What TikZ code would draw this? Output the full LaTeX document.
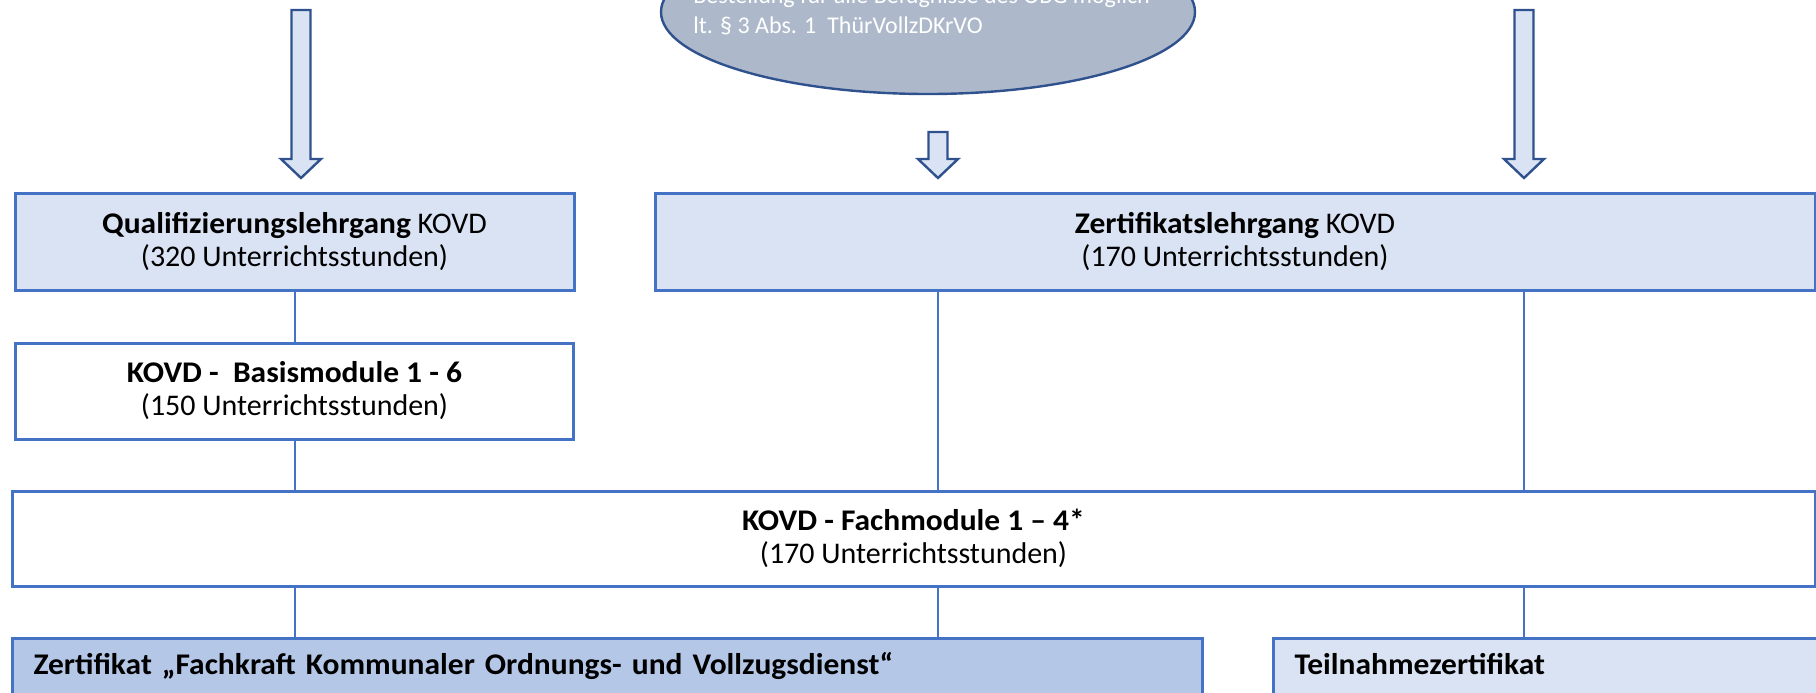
\documentclass[tikz,border=0pt]{standalone}
\usepackage{fontspec}
\setmainfont{Carlito}[BoldFeatures={FakeStretch=1.05}]
\usetikzlibrary{shapes.geometric}
\definecolor{kovdblue}{HTML}{4472C4}
\definecolor{kovddark}{HTML}{2F528F}
\definecolor{kovdlight}{HTML}{DAE3F3}
\definecolor{kovdmid}{HTML}{B4C7E7}
\definecolor{kovdgrey}{HTML}{ADB9CA}
\begin{document}
\begin{tikzpicture}[x=0.5pt,y=-0.5pt,
	font=\fontsize{15}{16.5}\selectfont,
	kurs/.style={draw=kovdblue,line width=1.5pt,fill=kovdlight,inner sep=0pt,align=center},
	modul/.style={kurs,fill=white},
	abschluss/.style={kurs,anchor=north west,align=left,inner xsep=10.5pt,inner ysep=0pt,text height=18pt,text depth=40pt},
	link/.style={draw=kovdblue,line width=1pt},
	blockpfeil/.style={draw=kovddark,fill=kovdlight,line width=1.2pt}]
	% Frame
	\useasboundingbox (0,0) rectangle (1816,692);
	\clip (0,0) rectangle (1816,692);
	% Bestellung (top, cut off)
	\node[ellipse,draw=kovddark,fill=kovdgrey,line width=1.2pt,minimum width=267pt,minimum height=82pt] (bestellung) at (928,12) {};
	\node[anchor=base west,align=left,inner sep=0pt,text=white,font=\fontsize{12}{15}\selectfont] (bestelltext) at (693,33)
		{Bestellung für alle Befugnisse des OBG möglich\\lt. § 3 Abs. 1 \ ThürVollzDKrVO};
	% Block arrows
	\foreach \px/\py/\pname in {301/10/L, 938/132/M, 1524/10/R}
		\draw[blockpfeil] (\px-9.5,\py) -- (\px+9.5,\py) -- (\px+9.5,159) -- (\px+20,159)
			-- (\px,178) coordinate (tip\pname) -- (\px-20,159) -- (\px-9.5,159) -- cycle;
	% Lehrgaenge
	\node[kurs,minimum width=279.5pt,minimum height=48.5pt] (quali) at (294.5,241.5)
		{\textbf{Qualifizierungslehrgang} KOVD\\(320 Unterrichtsstunden)};
	\node[kurs,minimum width=580pt,minimum height=48.5pt] (zertlg) at (1235,241.5)
		{\textbf{Zertifikatslehrgang} KOVD\\(170 Unterrichtsstunden)};
	% Module
	\node[modul,minimum width=279pt,minimum height=48pt] (basis) at (294.5,391)
		{\textbf{KOVD - \ Basismodule 1 - 6}\\(150 Unterrichtsstunden)};
	\node[modul,minimum width=901.5pt,minimum height=47.5pt] (fach) at (913.5,538.5)
		{\textbf{KOVD - Fachmodule 1 – 4*}\\(170 Unterrichtsstunden)};
	% Abschluesse
	\node[abschluss,fill=kovdmid,text width=574pt] (zertifikat) at (11,637)
		{\textbf{Zertifikat „Fachkraft Kommunaler Ordnungs- und Vollzugsdienst“}};
	\node[abschluss,text width=300pt] (teilnahme) at (1272,637)
		{\textbf{Teilnahmezertifikat}};
	% Connectors
	\draw[link] (quali) -- (basis);
	\draw[link] (basis.south) -- (basis.south |- fach.north);
	\draw[link] (tipM |- zertlg.south) -- (tipM |- fach.north);
	\draw[link] (tipR |- zertlg.south) -- (tipR |- fach.north);
	\draw[link] (basis.south |- fach.south) -- (basis.south |- zertifikat.north);
	\draw[link] (tipM |- fach.south) -- (tipM |- zertifikat.north);
	\draw[link] (tipR |- fach.south) -- (tipR |- teilnahme.north);
\end{tikzpicture}
\end{document}
